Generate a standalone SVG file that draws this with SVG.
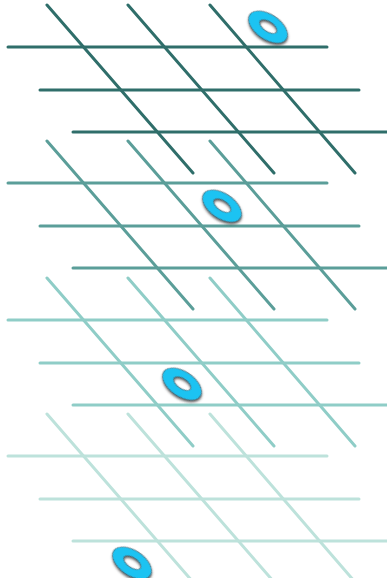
<svg xmlns="http://www.w3.org/2000/svg" xmlns:xlink="http://www.w3.org/1999/xlink" width="387" height="578" viewBox="0 0 387 578">
<style>
.ln{stroke:currentColor;stroke-width:3;stroke-linecap:round;fill:none}
.ring{fill:#1ec3f2;fill-rule:evenodd;stroke:#3a4a50;stroke-width:0.6;filter:url(#sh)}
</style>
<defs>
<filter id="sh" x="-30%" y="-30%" width="160%" height="160%">
<feDropShadow dx="1.2" dy="1.5" stdDeviation="0.8" flood-color="#333" flood-opacity="0.8"/>
</filter>
<g id="grid">
<path class="ln" d="M8 47H327M40 90H359M73 132H389"/>
<path class="ln" d="M47 5L193 173M128 5L274 173M210 5L355 173"/>
</g>
<path id="o" d="M-22 0A22 12.5 0 1 0 22 0A22 12.5 0 1 0 -22 0ZM-10 -0.5A10 5 0 1 1 10 -0.5A10 5 0 1 1 -10 -0.5Z"/>
</defs>
<rect width="387" height="578" fill="#ffffff"/>
<g id="connectors">
<use id="grid1" xlink:href="#grid" style="color:#2f6e6a"/>
<use id="grid2" xlink:href="#grid" transform="translate(0,136)" style="color:#5b9e99"/>
<use id="grid3" xlink:href="#grid" transform="translate(0,273)" style="color:#8fcdc7"/>
<use id="grid4" xlink:href="#grid" transform="translate(0,409)" style="color:#bde2db"/>
</g>
<g id="o1" transform="translate(268,27) rotate(34)"><use xlink:href="#o" class="ring"/></g>
<g id="o2" transform="translate(222,206) rotate(34)"><use xlink:href="#o" class="ring"/></g>
<g id="o3" transform="translate(182,384) rotate(34)"><use xlink:href="#o" class="ring"/></g>
<g id="o4" transform="translate(132,563) rotate(34)"><use xlink:href="#o" class="ring"/></g>
</svg>
